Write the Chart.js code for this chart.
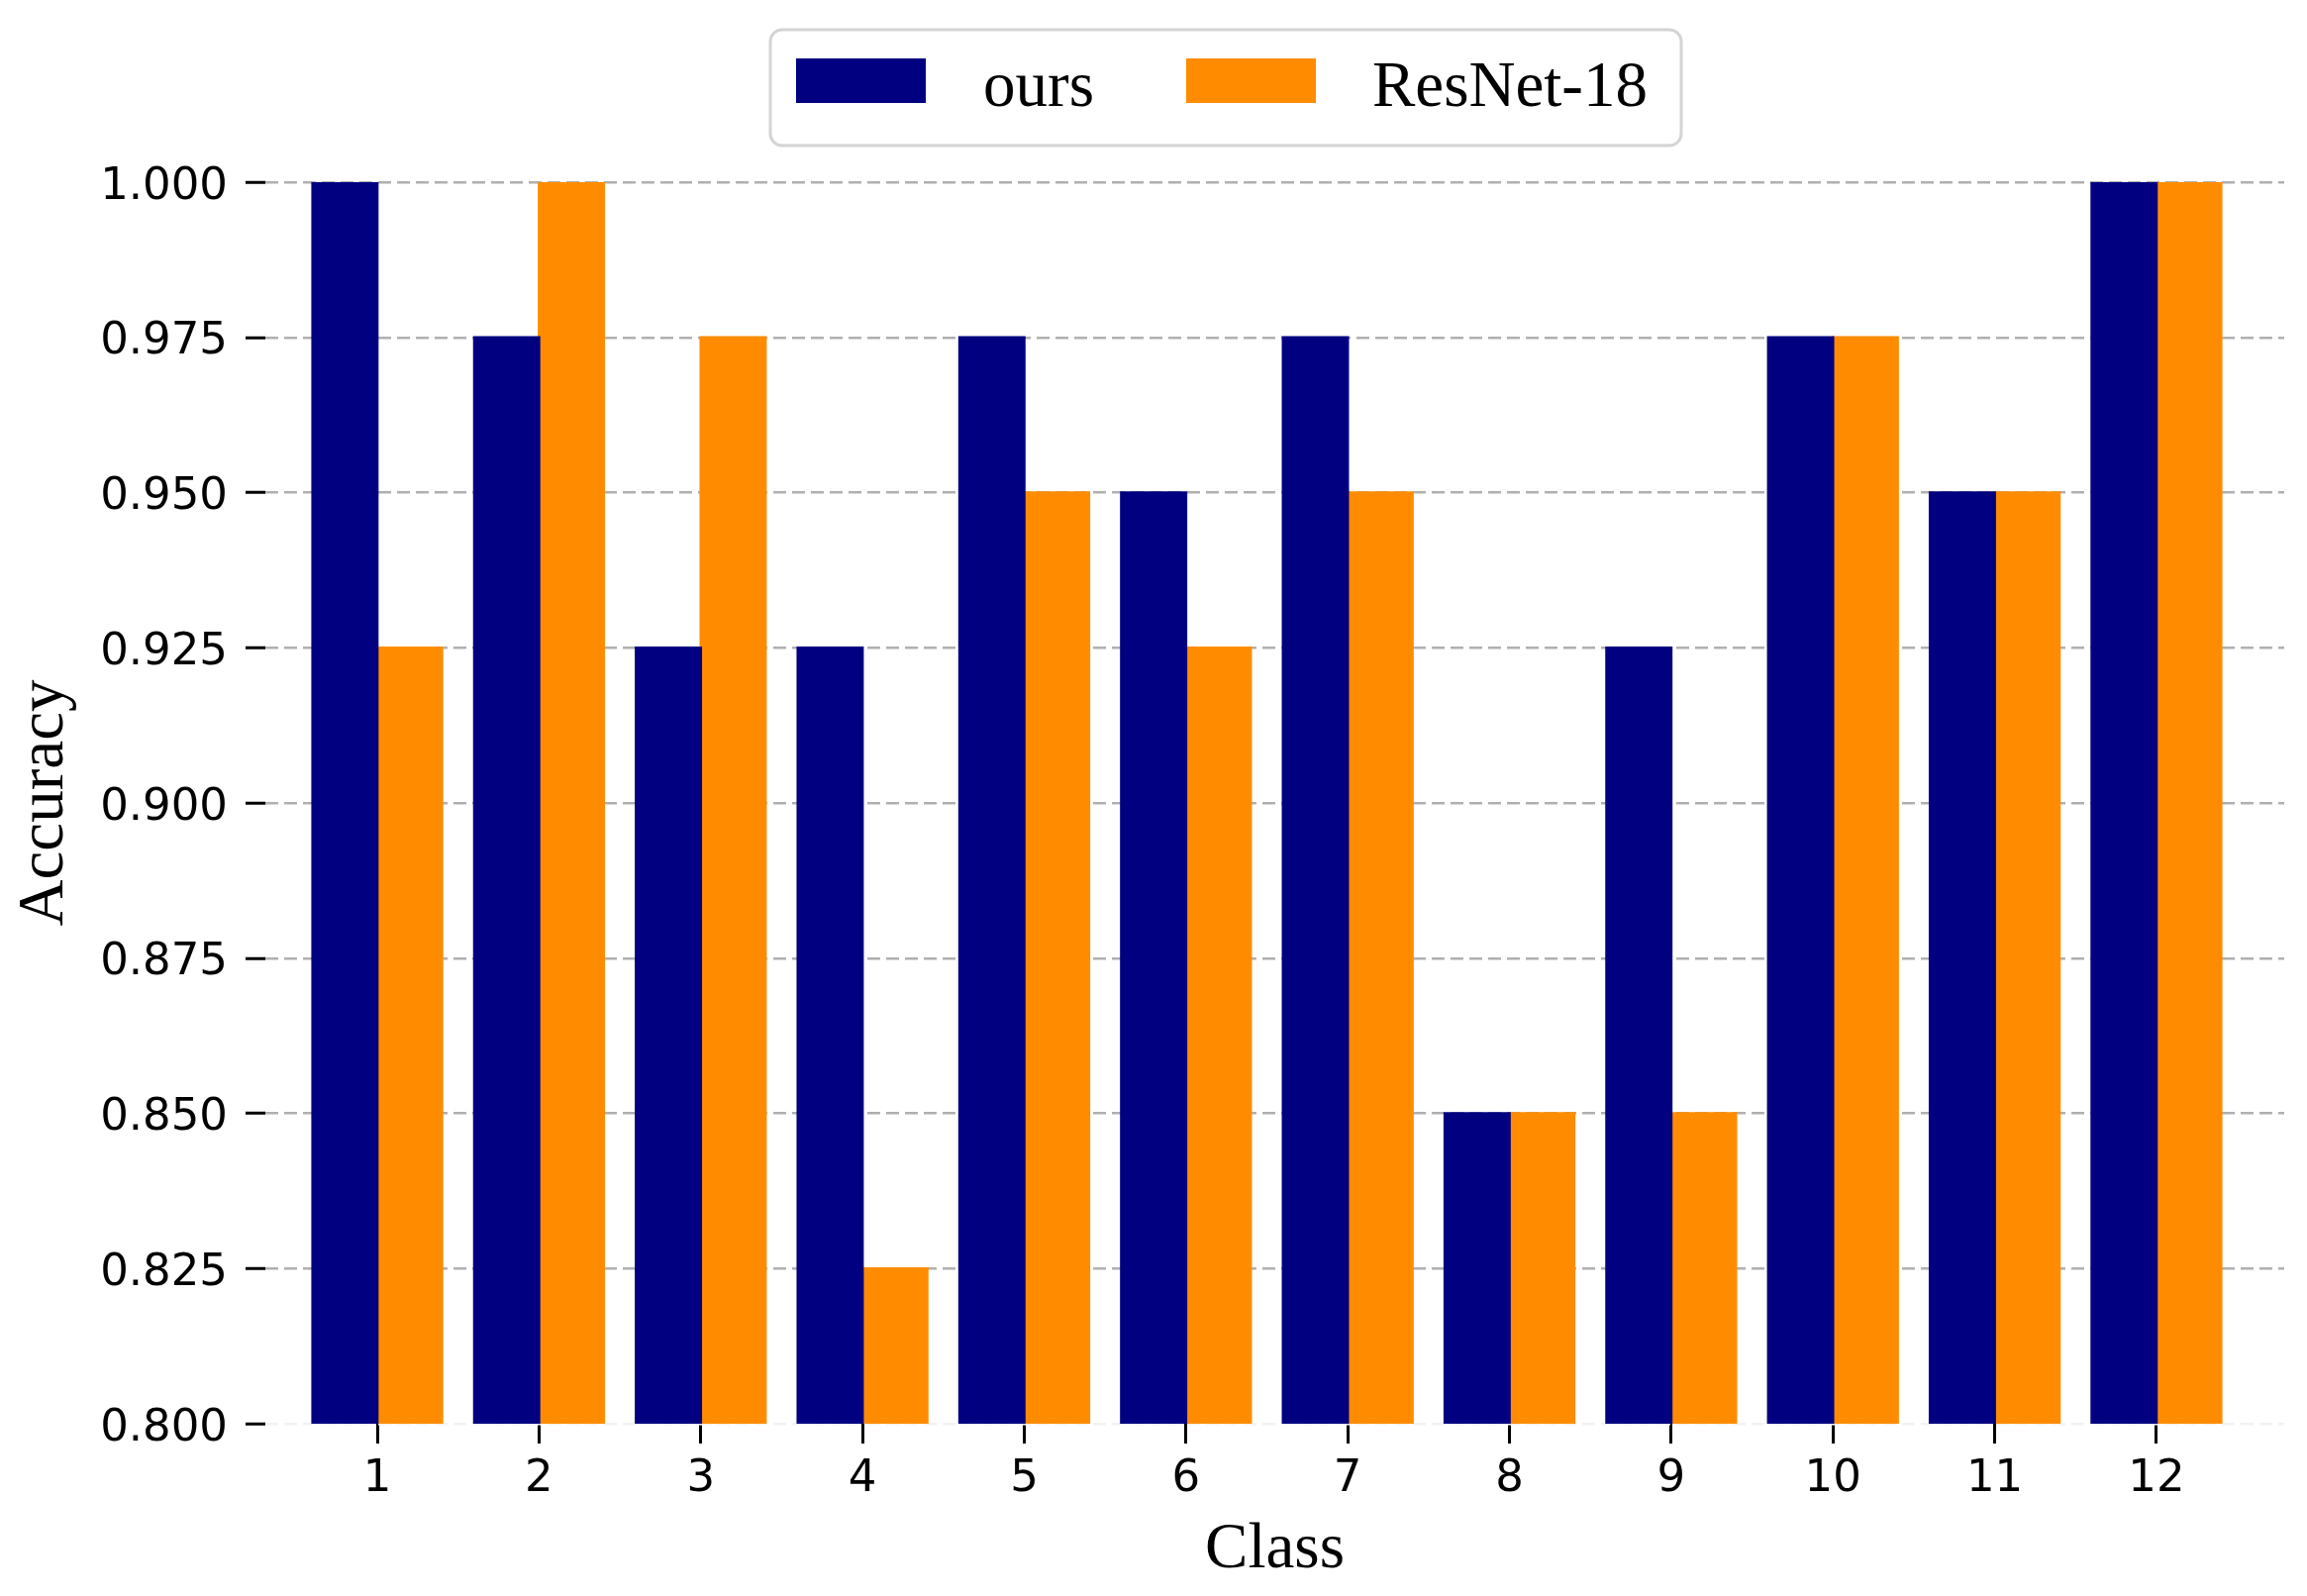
<!DOCTYPE html>
<html>
<head>
<meta charset="utf-8">
<script src="https://cdn.jsdelivr.net/npm/chart.js@4.4.0/dist/chart.umd.min.js"></script>
<style>
html,body{margin:0;padding:0;background:#fff;}
#wrap{width:2330px;height:1612px;position:relative;}
</style>
</head>
<body>
<div id="wrap"><canvas id="c"></canvas></div>
<script>
const classes = [1, 2, 3, 4, 5, 6, 7, 8, 9, 10, 11, 12];
const ours = [1.000, 0.975, 0.925, 0.925, 0.975, 0.950, 0.975, 0.850, 0.925, 0.975, 0.950, 1.000];
const resnet18 = [0.925, 1.000, 0.975, 0.825, 0.950, 0.925, 0.950, 0.850, 0.850, 0.975, 0.950, 1.000];
const yTicks = [0.800, 0.825, 0.850, 0.875, 0.900, 0.925, 0.950, 0.975, 1.000];
const seriesNames = ['ours', 'ResNet-18'];
const seriesColors = ['#000080', '#ff8c00'];
const xTitle = 'Class';
const yTitle = 'Accuracy';

Chart.defaults.color = '#000';

const boxLegend = {
  id: 'boxLegend',
  afterDraw(chart) {
    const ctx = chart.ctx;
    ctx.save();
    const fx = 778, fy = 30, fw = 920, fh = 117, r = 12;
    ctx.fillStyle = '#ffffff';
    ctx.strokeStyle = '#d4d4d4';
    ctx.lineWidth = 3;
    ctx.beginPath();
    ctx.roundRect(fx, fy, fw, fh, r);
    ctx.fill();
    ctx.stroke();
    const items = [{sx: 804, tx: 993}, {sx: 1198, tx: 1386}];
    ctx.font = '65px "Liberation Serif"';
    ctx.textBaseline = 'alphabetic';
    ctx.textAlign = 'left';
    chart.data.datasets.forEach((ds, i) => {
      ctx.fillStyle = ds.backgroundColor;
      ctx.fillRect(items[i].sx, 59, 131, 45);
      ctx.fillStyle = '#000';
      ctx.fillText(ds.label, items[i].tx, 107);
    });
    ctx.restore();
  }
};

const tickFont = {family: '"DejaVu Sans"', size: 45};
const titleFont = {family: '"Liberation Serif"', size: 65, lineHeight: 1.2};

new Chart(document.getElementById('c'), {
  type: 'bar',
  data: {
    datasets: [
      {
        label: seriesNames[0],
        data: classes.map((c, i) => ({x: c, y: ours[i]})),
        backgroundColor: seriesColors[0],
        borderWidth: 0,
        inflateAmount: 1.3,
        base: 0.8
      },
      {
        label: seriesNames[1],
        data: classes.map((c, i) => ({x: c, y: resnet18[i]})),
        backgroundColor: seriesColors[1],
        borderWidth: 0,
        inflateAmount: 1.3,
        base: 0.8
      }
    ]
  },
  options: {
    responsive: true,
    maintainAspectRatio: false,
    devicePixelRatio: 1,
    animation: false,
    categoryPercentage: 0.8,
    barPercentage: 1.0,
    layout: {padding: {top: 184, left: 0, right: 23, bottom: 0}},
    plugins: {
      legend: {display: false},
      tooltip: {enabled: false},
      title: {display: false}
    },
    scales: {
      x: {
        type: 'linear',
        offset: false,
        min: 0.308,
        max: 12.79,
        afterBuildTicks: (axis) => { axis.ticks = classes.map(v => ({value: v})); },
        afterFit: (s) => { s.height = 174; },
        ticks: {
          font: tickFont,
          color: '#000',
          padding: 9,
          autoSkip: false,
          maxRotation: 0,
          callback: (v) => String(v)
        },
        grid: {
          offset: false,
          drawOnChartArea: false,
          drawTicks: true,
          tickLength: 20,
          tickColor: '#000',
          tickWidth: 3
        },
        border: {display: false},
        title: {
          display: true,
          text: xTitle,
          font: titleFont,
          color: '#000',
          padding: {top: 0, bottom: 7}
        }
      },
      y: {
        type: 'linear',
        min: 0.8,
        max: 1.0,
        afterBuildTicks: (axis) => { axis.ticks = yTicks.map(v => ({value: v})); },
        afterFit: (s) => { s.width = 268; },
        ticks: {
          font: tickFont,
          color: '#000',
          padding: 18,
          labelOffset: 5,
          callback: (v) => Number(v).toFixed(3)
        },
        grid: {
          color: (c) => (c.tick && Math.abs(c.tick.value - 0.8) < 1e-9) ? '#f2f2f2' : '#b0b0b0',
          lineWidth: 2.5,
          drawTicks: true,
          tickLength: 20,
          tickColor: '#000',
          tickWidth: 3,
          tickBorderDash: []
        },
        border: {display: false, dash: [13, 6]},
        title: {
          display: true,
          text: yTitle,
          font: titleFont,
          color: '#000',
          padding: {top: 7, bottom: 0}
        }
      }
    }
  },
  plugins: [boxLegend]
});
</script>
</body>
</html>
